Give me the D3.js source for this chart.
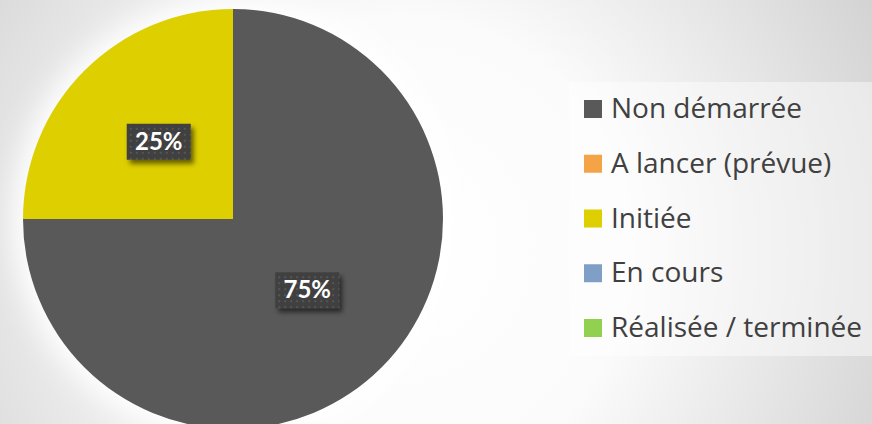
<!DOCTYPE html>
<html>
<head>
<meta charset="utf-8">
<script src="https://cdn.jsdelivr.net/npm/d3@7"></script>
<style>
  html, body { margin: 0; padding: 0; overflow: hidden; }
  #container { width: 872px; height: 424px; }
</style>
</head>
<body>
<div id="container"></div>
<script>
// chart data
var categories = ["Non démarrée", "A lancer (prévue)", "Initiée", "En cours", "Réalisée / terminée"];
var values = [3, 0, 1, 0, 0];
var colors = ["#595959", "#F4A446", "#DDCF00", "#7F9FC6", "#92D050"];

var width = 872, height = 424;
var cx = 233, cy = 219, radius = 210;

var svg = d3.select("#container").append("svg")
    .attr("width", width)
    .attr("height", height);

var defs = svg.append("defs");

// background gradient
var bg = defs.append("radialGradient")
    .attr("id", "bg")
    .attr("gradientUnits", "userSpaceOnUse")
    .attr("cx", 400).attr("cy", 250).attr("r", 580);
bg.append("stop").attr("offset", "0%").attr("stop-color", "#ffffff");
bg.append("stop").attr("offset", "40%").attr("stop-color", "#fbfbfb");
bg.append("stop").attr("offset", "100%").attr("stop-color", "#cdcdcd");

// white glow round the pie
var glow = defs.append("filter").attr("id", "glow")
    .attr("x", "-30%").attr("y", "-30%").attr("width", "160%").attr("height", "160%");
glow.append("feGaussianBlur").attr("stdDeviation", 14);

// shadow for label boxes
var shadow = defs.append("filter").attr("id", "shadow")
    .attr("x", "-30%").attr("y", "-30%").attr("width", "160%").attr("height", "160%");
shadow.append("feDropShadow")
    .attr("dx", 3).attr("dy", 4).attr("stdDeviation", 2.5)
    .attr("flood-color", "#000").attr("flood-opacity", 0.55);

// dotted pattern for label boxes
var pat = defs.append("pattern").attr("id", "dots")
    .attr("patternUnits", "userSpaceOnUse")
    .attr("width", 6).attr("height", 6);
pat.append("rect").attr("width", 6).attr("height", 6).attr("fill", "#3f3f3f");
pat.append("rect").attr("x", 1).attr("y", 1).attr("width", 2).attr("height", 2).attr("fill", "#575757");

svg.append("rect")
    .attr("width", width).attr("height", height)
    .attr("fill", "url(#bg)");

var g = svg.append("g").attr("transform", "translate(" + cx + "," + cy + ")");

g.append("circle")
    .attr("r", radius + 10)
    .attr("fill", "#ffffff")
    .attr("filter", "url(#glow)");

var data = categories.map(function(c, i) { return {name: c, value: values[i], color: colors[i]}; });

var pie = d3.pie()
    .sort(null)
    .value(function(d) { return d.value; });

var arc = d3.arc().innerRadius(0).outerRadius(radius);

var arcs = pie(data).filter(function(d) { return d.value > 0; });

g.selectAll("path.slice")
    .data(arcs)
    .enter().append("path")
      .attr("class", "slice")
      .attr("d", arc)
      .attr("fill", function(d) { return d.data.color; });

var total = d3.sum(values);
var fmt = d3.format(".0%");

var label = g.selectAll("g.label")
    .data(arcs)
    .enter().append("g")
      .attr("class", "label")
      .attr("transform", function(d) {
        var c = arc.centroid(d);
        return "translate(" + c[0] + "," + c[1] + ")";
      });

label.append("rect")
    .attr("x", -32).attr("y", -21)
    .attr("width", 64).attr("height", 36)
    .attr("fill", "url(#dots)")
    .attr("filter", "url(#shadow)");

label.append("text")
    .attr("text-anchor", "middle")
    .attr("y", 5)
    .style("font-family", "Lato, 'Open Sans', sans-serif")
    .style("font-weight", "bold")
    .style("font-size", "24px")
    .attr("fill", "#ffffff")
    .text(function(d) { return fmt(d.value / total); });

// legend
var legend = svg.append("g").attr("transform", "translate(569,82)");

legend.append("rect")
    .attr("width", width - 569).attr("height", 274)
    .attr("fill", "#ffffff").attr("fill-opacity", 0.45);

var rowY = d3.scalePoint()
    .domain(categories)
    .range([27, 246]);

var item = legend.selectAll("g.item")
    .data(data)
    .enter().append("g")
      .attr("class", "item")
      .attr("transform", function(d) { return "translate(15," + rowY(d.name) + ")"; });

item.append("rect")
    .attr("y", -9)
    .attr("width", 18).attr("height", 18)
    .attr("fill", function(d) { return d.color; });

item.append("text")
    .attr("x", 27)
    .attr("y", 9)
    .style("font-family", "'Open Sans', sans-serif")
    .style("font-size", "28px")
    .attr("fill", "#404040")
    .text(function(d) { return d.name; });
</script>
</body>
</html>
